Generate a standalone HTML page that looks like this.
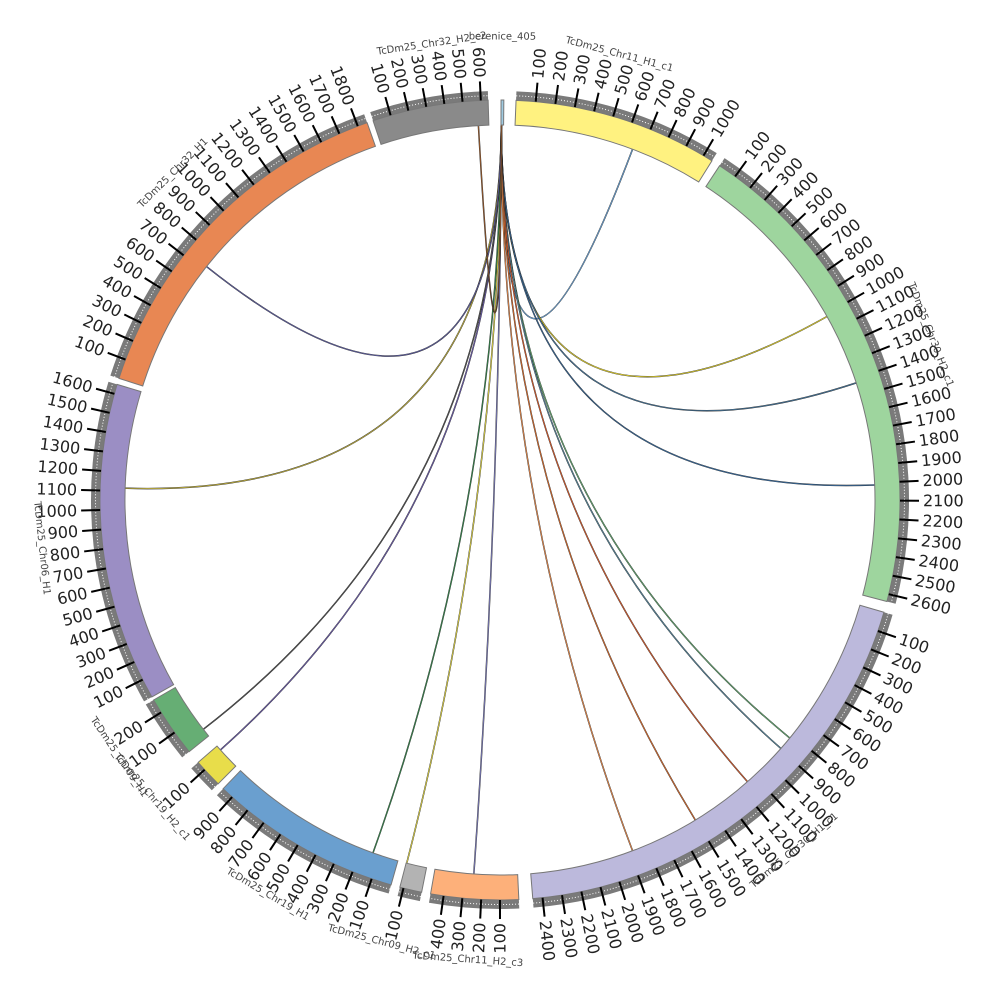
<!DOCTYPE html>
<html><head><meta charset="utf-8">
<style>html,body{margin:0;padding:0;background:#fff;}svg{display:block;}</style>
</head><body>
<svg id="s" xmlns="http://www.w3.org/2000/svg" width="1000" height="1000" viewBox="0 0 1000 1000" font-family="DejaVu Sans, Liberation Sans, sans-serif">
<rect width="1000" height="1000" fill="#fff"/>
<g id="links"></g>
<g id="ideo"></g>
<g id="names" font-size="10" fill="#444"></g>
</svg>
<script>
var NS="http://www.w3.org/2000/svg",CX=500,CY=500;
function P(r,a){var t=a*Math.PI/180;return [CX+r*Math.sin(t),CY-r*Math.cos(t)];}
function el(tag,at,par,txt){var e=document.createElementNS(NS,tag);for(var k in at)e.setAttribute(k,at[k]);if(txt!==undefined)e.textContent=txt;par.appendChild(e);return e;}
function arcPath(r1,r2,a1,a2){var p1=P(r2,a1),p2=P(r2,a2),p3=P(r1,a2),p4=P(r1,a1);var l=(a2-a1)>180?1:0;
return "M"+p1+" A"+r2+","+r2+" 0 "+l+",1 "+p2+" L"+p3+" A"+r1+","+r1+" 0 "+l+",0 "+p4+"Z";}
var segs=[
["berenice_405",0.15,0.55,15,"#9ecae1",0.3,463],
["TcDm25_Chr11_H1_c1",2.3,32,1050,"#fff280",15,461],
["TcDm25_Chr30_H2_c1",33.3,104.7,2640,"#9ed59e",69,461],
["TcDm25_Chr30_H1_c1",106.3,175.3,2450,"#bcb9dc",140,458],
["TcDm25_Chr11_H2_c3",177.3,190,470,"#fdb07a",184,461],
["TcDm25_Chr09_H2_c1",191.3,194.5,120,"#b3b3b3",195,458],
["TcDm25_Chr19_H1",195.8,223.8,960,"#6a9fcf",210.5,458],
["TcDm25_Chr19_H2_c1",224.8,229,150,"#e8dd4a",229.5,458],
["TcDm25_Chr09_H1",231,240,260,"#66ae74",236,460],
["TcDm25_Chr06_H1",240.5,286.8,1650,"#9b8ec4",264,461],
["TcDm25_Chr32_H1",287.7,340.6,1850,"#e88753",315,462],
["TcDm25_Chr32_H2_c2",341.5,358.3,640,"#8a8a8a",351.5,461]];
var ideo=document.getElementById("ideo"),names=document.getElementById("names");
segs.forEach(function(s){
 var a1=s[1],a2=s[2],K=(a2-a1)/s[3];
 if(s[0]!="berenice_405"){
  el("path",{d:arcPath(400,409,a1,a2),fill:"#7a7a7a"},ideo);
  var p1=P(404.5,a1),p2=P(404.5,a2);
  el("path",{d:"M"+p1+" A404.5,404.5 0 0,1 "+p2,fill:"none",stroke:"#fff","stroke-width":1,"stroke-dasharray":"1 2"},ideo);
 }
 el("path",{d:arcPath(375,400,a1,a2),fill:s[4],stroke:"#777","stroke-width":1},ideo);
 for(var v=100;v<s[3];v+=100){
  var a=a1+v*K,q1=P(400,a),q2=P(419,a);
  el("line",{x1:q1[0],y1:q1[1],x2:q2[0],y2:q2[1],stroke:"#000","stroke-width":2},ideo);
  var t=P(423,a),flip=(a>180&&a<360),rot=flip?a+90:a-90;
  el("text",{x:t[0],y:t[1],"font-size":16,fill:"#222","text-anchor":flip?"end":"start","dominant-baseline":"central",transform:"rotate("+rot+" "+t[0]+" "+t[1]+")"},ideo,String(v));
 }
 var na=s[5],nr=s[6];
 var np=P(nr,na),nrot=(na>90&&na<270)?na-180:na;
 el("text",{x:np[0],y:np[1],"text-anchor":"middle","dominant-baseline":"central",transform:"rotate("+nrot+" "+np[0]+" "+np[1]+")"},names,s[0]);
});
var links=[[20.7,"#6fa8dc"],[60.7,"#e0d030"],[71.8,"#4a7aa0"],[87.7,"#3a6a9a"],[129.4,"#66ae74"],[131.5,"#5a8aa0"],
[138.7,"#e06030"],[148.6,"#e07030"],[159.3,"#f09050"],[184,"#8080c0"],[194.4,"#e8dd4a"],[199.8,"#3a8a50"],
[228.2,"#7060b0"],[232.3,"#555"],[271.8,"#c0b040"],[308.5,"#6060a0"],[356.7,"#a06030"]];
var lg=document.getElementById("links");
links.forEach(function(l){
 var s=P(375,0.2),e=P(375,l[0]);
 var d="M"+s+" Q500,500 "+e;
 el("path",{d:d,fill:"none",stroke:"#222","stroke-width":1.5},lg);
 el("path",{d:d,fill:"none",stroke:l[1],"stroke-width":0.8},lg);
});
</script>
</body></html>
